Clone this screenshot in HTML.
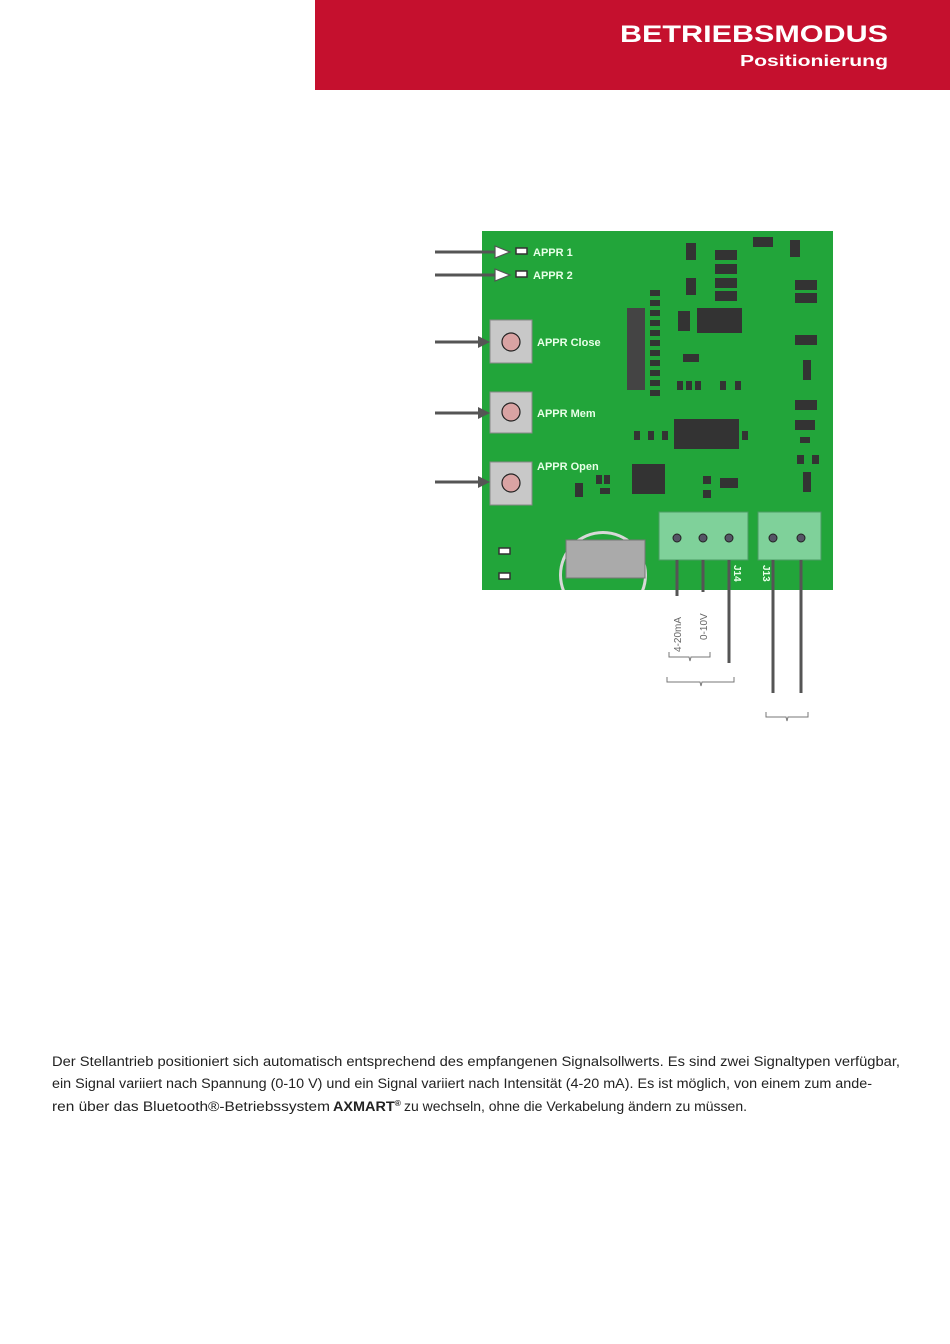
<!DOCTYPE html>
<html><head><meta charset="utf-8"><style>
html,body{margin:0;padding:0;background:#fff;width:950px;height:1344px;overflow:hidden}
svg{display:block}
text{font-family:"Liberation Sans",sans-serif}
</style></head><body>
<svg width="950" height="1344" viewBox="0 0 950 1344" xmlns="http://www.w3.org/2000/svg">
<rect x="315" y="0" width="635" height="90" fill="#c5102e"/>
<text x="620" y="42" font-size="24" font-weight="bold" fill="#fff" textLength="268" lengthAdjust="spacingAndGlyphs">BETRIEBSMODUS</text>
<text x="740" y="66" font-size="16" font-weight="bold" fill="#fff" textLength="148" lengthAdjust="spacingAndGlyphs">Positionierung</text>

<!-- PCB -->
<rect x="482" y="231" width="351" height="359" fill="#22a53a"/>
<!-- battery -->
<circle cx="603" cy="575" r="44" fill="#d8d8d8"/>
<circle cx="603" cy="575" r="41" fill="#22a53a"/>
<rect x="482" y="590" width="351" height="40" fill="#fff"/>
<rect x="566" y="540" width="79" height="38" fill="#aaa" stroke="#777"/>
<!-- LEDs -->
<rect x="516" y="248" width="11" height="6" fill="#fff" stroke="#333" stroke-width="1.5"/>
<rect x="516" y="271" width="11" height="6" fill="#fff" stroke="#333" stroke-width="1.5"/>
<rect x="499" y="548" width="11" height="6" fill="#fff" stroke="#333" stroke-width="1.5"/>
<rect x="499" y="573" width="11" height="6" fill="#fff" stroke="#333" stroke-width="1.5"/>
<g font-size="11" font-weight="bold" fill="#e8ffe8">
<text x="533" y="256">APPR 1</text>
<text x="533" y="279">APPR 2</text>
<text x="537" y="346">APPR Close</text>
<text x="537" y="417">APPR Mem</text>
<text x="537" y="470">APPR Open</text>
</g>
<!-- buttons -->
<g fill="#c8c8c8" stroke="#888">
<rect x="490" y="320" width="42" height="43"/>
<rect x="490" y="392" width="42" height="41"/>
<rect x="490" y="462" width="42" height="43"/>
</g>
<g fill="#d9a3a3" stroke="#222" stroke-width="1.2">
<circle cx="511" cy="342" r="9"/><circle cx="511" cy="412" r="9"/><circle cx="511" cy="483" r="9"/>
</g>
<!-- components -->
<g fill="#333">
<rect x="674" y="419" width="65" height="30"/>
<rect x="632" y="464" width="33" height="30"/>
<rect x="697" y="308" width="45" height="25"/>
<rect x="678" y="311" width="12" height="20"/>
<rect x="627" y="308" width="18" height="82" fill="#444"/>
<rect x="715" y="250" width="22" height="10"/><rect x="715" y="264" width="22" height="10"/>
<rect x="715" y="278" width="22" height="10"/><rect x="715" y="291" width="22" height="10"/>
<rect x="753" y="237" width="20" height="10"/>
<rect x="795" y="280" width="22" height="10"/><rect x="795" y="293" width="22" height="10"/>
<rect x="795" y="335" width="22" height="10"/><rect x="795" y="400" width="22" height="10"/>
<rect x="686" y="243" width="10" height="17"/><rect x="686" y="278" width="10" height="17"/>
<rect x="790" y="240" width="10" height="17"/>
<rect x="683" y="354" width="16" height="8"/>
<rect x="803" y="360" width="8" height="20"/><rect x="803" y="472" width="8" height="20"/>
<rect x="795" y="420" width="20" height="10"/>
<rect x="720" y="478" width="18" height="10"/>
<rect x="575" y="483" width="8" height="14"/>
</g>
<g fill="#333">
<rect x="650" y="290" width="10" height="6"/><rect x="650" y="300" width="10" height="6"/><rect x="650" y="310" width="10" height="6"/><rect x="650" y="320" width="10" height="6"/><rect x="650" y="330" width="10" height="6"/><rect x="650" y="340" width="10" height="6"/><rect x="650" y="350" width="10" height="6"/><rect x="650" y="360" width="10" height="6"/><rect x="650" y="370" width="10" height="6"/><rect x="650" y="380" width="10" height="6"/><rect x="650" y="390" width="10" height="6"/>
<rect x="677" y="381" width="6" height="9"/><rect x="686" y="381" width="6" height="9"/><rect x="695" y="381" width="6" height="9"/><rect x="720" y="381" width="6" height="9"/><rect x="735" y="381" width="6" height="9"/>
<rect x="634" y="431" width="6" height="9"/><rect x="648" y="431" width="6" height="9"/><rect x="662" y="431" width="6" height="9"/><rect x="742" y="431" width="6" height="9"/>
<rect x="596" y="475" width="6" height="9"/><rect x="604" y="475" width="6" height="9"/><rect x="600" y="488" width="10" height="6"/>
<rect x="703" y="476" width="8" height="8"/><rect x="703" y="490" width="8" height="8"/>
<rect x="800" y="437" width="10" height="6"/><rect x="797" y="455" width="7" height="9"/><rect x="812" y="455" width="7" height="9"/>
</g>
<!-- connectors -->
<g fill="#7fd19a" stroke="#4a9a62">
<rect x="659" y="512" width="89" height="48"/>
<rect x="758" y="512" width="63" height="48"/>
</g>
<g fill="#556" stroke="#222">
<circle cx="677" cy="538" r="4"/><circle cx="703" cy="538" r="4"/><circle cx="729" cy="538" r="4"/>
<circle cx="773" cy="538" r="4"/><circle cx="801" cy="538" r="4"/>
</g>
<text transform="translate(734,565) rotate(90)" font-size="10" font-weight="bold" fill="#e8ffe8">J14</text>
<text transform="translate(763,565) rotate(90)" font-size="10" font-weight="bold" fill="#e8ffe8">J13</text>
<!-- wires -->
<g stroke="#555" stroke-width="3">
<line x1="677" y1="560" x2="677" y2="596"/>
<line x1="703" y1="560" x2="703" y2="592"/>
<line x1="729" y1="560" x2="729" y2="663"/>
<line x1="773" y1="560" x2="773" y2="693"/>
<line x1="801" y1="560" x2="801" y2="693"/>
</g>
<g font-size="10" fill="#666">
<text transform="translate(681,652) rotate(-90)">4-20mA</text>
<text transform="translate(707,640) rotate(-90)">0-10V</text>
</g>
<g fill="none" stroke="#777" stroke-width="1">
<path d="M669,652 v5 h20 l1,4 l1,-4 h19 v-5"/>
<path d="M667,677 v5 h33 l1,4 l1,-4 h32 v-5"/>
<path d="M766,712 v5 h20 l1,4 l1,-4 h20 v-5"/>
</g>
<!-- arrows -->
<g stroke="#555" stroke-width="3">
<line x1="435" y1="252" x2="498" y2="252"/>
<line x1="435" y1="275" x2="498" y2="275"/>
<line x1="435" y1="342" x2="480" y2="342"/>
<line x1="435" y1="413" x2="480" y2="413"/>
<line x1="435" y1="482" x2="480" y2="482"/>
</g>
<g fill="#fff" stroke="#555" stroke-width="1.2">
<polygon points="495,246 510,252 495,258"/>
<polygon points="495,269 510,275 495,281"/>
</g>
<g fill="#555">
<polygon points="478,336 490,342 478,348"/>
<polygon points="478,407 490,413 478,419"/>
<polygon points="478,476 490,482 478,488"/>
</g>
<!-- body text -->
<g font-size="13.5" fill="#222">
<text x="52" y="1066" textLength="848" lengthAdjust="spacingAndGlyphs">Der Stellantrieb positioniert sich automatisch entsprechend des empfangenen Signalsollwerts. Es sind zwei Signaltypen verfügbar,</text>
<text x="52" y="1088" textLength="820" lengthAdjust="spacingAndGlyphs">ein Signal variiert nach Spannung (0-10 V) und ein Signal variiert nach Intensität (4-20 mA). Es ist möglich, von einem zum ande-</text>
<text x="52" y="1111" textLength="278" lengthAdjust="spacingAndGlyphs">ren über das Bluetooth®-Betriebssystem</text>
<text x="333" y="1111" font-weight="bold" textLength="68" lengthAdjust="spacingAndGlyphs">AXMART<tspan font-size="8" dy="-5">®</tspan></text>
<text x="404" y="1111" textLength="343" lengthAdjust="spacingAndGlyphs">zu wechseln, ohne die Verkabelung ändern zu müssen.</text>
</g>
</svg>
</body></html>
